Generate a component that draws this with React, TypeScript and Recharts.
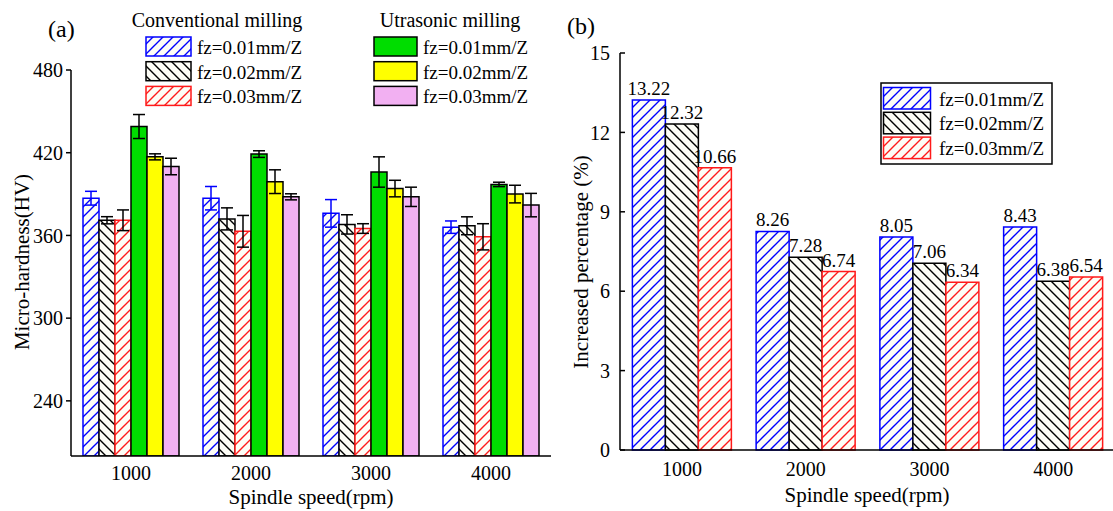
import React from 'react';
import { BarChart, Bar, XAxis, YAxis, ErrorBar, LabelList } from 'recharts';

// Spindle speeds (rpm)
const speeds = ['1000', '2000', '3000', '4000'];

// (a) Micro-hardness (HV) — conventional milling
const convFz001 = [387, 387, 376, 366];
const convFz002 = [371, 372, 368, 367];
const convFz003 = [371, 363, 365, 359];
const convFz001Err = [5, 8.5, 10, 4.5];
const convFz002Err = [2.6, 8, 7, 6.5];
const convFz003Err = [7.5, 11.5, 3.5, 9.5];

// (a) Micro-hardness (HV) — ultrasonic milling
const ultraFz001 = [439, 419, 406, 397];
const ultraFz002 = [417, 399, 394, 390];
const ultraFz003 = [410, 388, 388, 382];
const ultraFz001Err = [8.7, 2.4, 11, 1.6];
const ultraFz002Err = [2.2, 8.6, 6, 6.4];
const ultraFz003Err = [6, 2.2, 7, 8.5];

// (b) Increased percentage (%)
const incFz001 = [13.22, 8.26, 8.05, 8.43];
const incFz002 = [12.32, 7.28, 7.06, 6.38];
const incFz003 = [10.66, 6.74, 6.34, 6.54];

const hardnessTicks = [240, 300, 360, 420, 480];
const percentTicks = [0, 3, 6, 9, 12, 15];
const feedLabels = ['fz=0.01mm/Z', 'fz=0.02mm/Z', 'fz=0.03mm/Z'];

const hardnessData = speeds.map((speed, i) => ({
  speed,
  c1: convFz001[i], c1e: convFz001Err[i],
  c2: convFz002[i], c2e: convFz002Err[i],
  c3: convFz003[i], c3e: convFz003Err[i],
  u1: ultraFz001[i], u1e: ultraFz001Err[i],
  u2: ultraFz002[i], u2e: ultraFz002Err[i],
  u3: ultraFz003[i], u3e: ultraFz003Err[i],
}));

const percentData = speeds.map((speed, i) => ({
  speed,
  p1: incFz001[i],
  p2: incFz002[i],
  p3: incFz003[i],
}));

const FONT = '"Liberation Serif", "Times New Roman", serif';
const BLUE = '#0000ff';
const BLACK = '#000000';
const RED = '#ff1a1a';
const GREEN = '#00dd00';
const YELLOW = '#ffff00';
const PINK = '#f2b0f2';

const tickStyle = { fill: '#000', fontSize: 20, fontFamily: FONT };
const labelStyle = { fill: '#000', fontSize: 19, fontFamily: FONT };

function HatchDefs() {
  const mk = (id: string, color: string, forward: boolean) => (
    <pattern id={id} patternUnits="userSpaceOnUse" width={10} height={10}>
      <rect width={10} height={10} fill="#fdfdf6" />
      <path
        d={forward
          ? 'M0,10 L10,0 M-5,5 L5,-5 M5,15 L15,5'
          : 'M0,0 L10,10 M-5,5 L5,15 M5,-5 L15,5'}
        stroke={color}
        strokeWidth={1.4}
      />
    </pattern>
  );
  return (
    <svg width={0} height={0} style={{ position: 'absolute' }}>
      <defs>
        {mk('hatchBlue', BLUE, true)}
        {mk('hatchBlack', BLACK, false)}
        {mk('hatchRed', RED, true)}
      </defs>
    </svg>
  );
}

const hatchSwatches = [
  { fill: 'url(#hatchBlue)', stroke: BLUE },
  { fill: 'url(#hatchBlack)', stroke: BLACK },
  { fill: 'url(#hatchRed)', stroke: RED },
];
const solidSwatches = [
  { fill: GREEN, stroke: BLACK },
  { fill: YELLOW, stroke: BLACK },
  { fill: PINK, stroke: BLACK },
];

function Annotations() {
  return (
    <svg
      width={1113}
      height={511}
      style={{ position: 'absolute', left: 0, top: 0, pointerEvents: 'none' }}
      fontFamily={FONT}
    >
      {/* panel tags */}
      <text x={48} y={37} fontSize={24}>(a)</text>
      <text x={567} y={34} fontSize={24}>(b)</text>

      {/* axis titles */}
      <text transform="translate(29,262) rotate(-90)" textAnchor="middle" fontSize={21}>Micro-hardness(HV)</text>
      <text x={311} y={504} textAnchor="middle" fontSize={21}>Spindle speed(rpm)</text>
      <text transform="translate(588,262) rotate(-90)" textAnchor="middle" fontSize={21}>Increased percentage (%)</text>
      <text x={867} y={502} textAnchor="middle" fontSize={21}>Spindle speed(rpm)</text>

      {/* legend (a) */}
      <text x={217} y={27} textAnchor="middle" fontSize={20}>Conventional milling</text>
      <text x={450} y={27} textAnchor="middle" fontSize={20}>Utrasonic milling</text>
      {feedLabels.map((lab, i) => (
        <g key={'c' + i}>
          <rect x={146} y={37 + i * 24.7} width={45} height={19} fill={hatchSwatches[i].fill} stroke={hatchSwatches[i].stroke} strokeWidth={1.5} />
          <text x={197} y={54 + i * 24.7} fontSize={19}>{lab}</text>
          <rect x={374} y={37 + i * 24.7} width={43} height={19} fill={solidSwatches[i].fill} stroke={solidSwatches[i].stroke} strokeWidth={1.5} />
          <text x={423} y={54 + i * 24.7} fontSize={19}>{lab}</text>
        </g>
      ))}

      {/* legend (b) */}
      <rect x={881} y={83} width={171} height={81} fill="#fff" stroke="#000" strokeWidth={1.5} />
      {feedLabels.map((lab, i) => (
        <g key={'p' + i}>
          <rect x={883.5} y={87.5 + i * 24.8} width={47} height={21.5} fill={hatchSwatches[i].fill} stroke={hatchSwatches[i].stroke} strokeWidth={1.5} />
          <text x={939} y={105.5 + i * 24.8} fontSize={19}>{lab}</text>
        </g>
      ))}
    </svg>
  );
}

export default function App() {
  return (
    <div
      style={{
        position: 'absolute', left: 0, top: 0, width: 1113, height: 511,
        overflow: 'hidden', background: '#fff', fontFamily: FONT,
      }}
    >
      <HatchDefs />

      {/* (a) micro-hardness */}
      <div style={{ position: 'absolute', left: 0, top: 0 }}>
        <BarChart
          width={560}
          height={511}
          data={hardnessData}
          margin={{ top: 70, right: 9, bottom: 25, left: 0 }}
          barCategoryGap="10%"
          barGap={0}
        >
          <XAxis
            dataKey="speed"
            height={30}
            tickLine={false}
            tickSize={0}
            tickMargin={10}
            tick={tickStyle}
            axisLine={{ stroke: '#000', strokeWidth: 1.5 }}
          />
          <YAxis
            width={71}
            domain={[200, 480]}
            ticks={hardnessTicks}
            allowDataOverflow
            tickSize={5}
            tickMargin={3}
            tick={tickStyle}
            tickLine={{ stroke: '#000', strokeWidth: 1.5 }}
            axisLine={{ stroke: '#000', strokeWidth: 1.5 }}
          />
          <Bar dataKey="c1" fill="url(#hatchBlue)" stroke={BLUE} strokeWidth={1.5} isAnimationActive={false}>
            <ErrorBar dataKey="c1e" width={6} stroke={BLUE} strokeWidth={1.5} direction="y" />
          </Bar>
          <Bar dataKey="c2" fill="url(#hatchBlack)" stroke={BLACK} strokeWidth={1.5} isAnimationActive={false}>
            <ErrorBar dataKey="c2e" width={6} stroke={BLACK} strokeWidth={1.5} direction="y" />
          </Bar>
          <Bar dataKey="c3" fill="url(#hatchRed)" stroke={RED} strokeWidth={1.5} isAnimationActive={false}>
            <ErrorBar dataKey="c3e" width={6} stroke={BLACK} strokeWidth={1.5} direction="y" />
          </Bar>
          <Bar dataKey="u1" fill={GREEN} stroke={BLACK} strokeWidth={1.5} isAnimationActive={false}>
            <ErrorBar dataKey="u1e" width={6} stroke={BLACK} strokeWidth={1.5} direction="y" />
          </Bar>
          <Bar dataKey="u2" fill={YELLOW} stroke={BLACK} strokeWidth={1.5} isAnimationActive={false}>
            <ErrorBar dataKey="u2e" width={6} stroke={BLACK} strokeWidth={1.5} direction="y" />
          </Bar>
          <Bar dataKey="u3" fill={PINK} stroke={BLACK} strokeWidth={1.5} isAnimationActive={false}>
            <ErrorBar dataKey="u3e" width={6} stroke={BLACK} strokeWidth={1.5} direction="y" />
          </Bar>
        </BarChart>
      </div>

      {/* (b) increased percentage */}
      <div style={{ position: 'absolute', left: 560, top: 0 }}>
        <BarChart
          width={555}
          height={511}
          data={percentData}
          margin={{ top: 53, right: 0, bottom: 31, left: 0 }}
          barCategoryGap="10%"
          barGap={0}
        >
          <XAxis
            dataKey="speed"
            height={30}
            tickLine={false}
            tickSize={0}
            tickMargin={12}
            tick={tickStyle}
            axisLine={{ stroke: '#000', strokeWidth: 1.5 }}
          />
          <YAxis
            width={60}
            domain={[0, 15]}
            ticks={percentTicks}
            tickSize={-5}
            tickMargin={15}
            tick={tickStyle}
            tickLine={{ stroke: '#000', strokeWidth: 1.5 }}
            axisLine={{ stroke: '#000', strokeWidth: 1.5 }}
          />
          <Bar dataKey="p1" fill="url(#hatchBlue)" stroke={BLUE} strokeWidth={1.5} isAnimationActive={false}>
            <LabelList dataKey="p1" position="top" offset={5} {...labelStyle} formatter={(v: number) => v.toFixed(2)} />
          </Bar>
          <Bar dataKey="p2" fill="url(#hatchBlack)" stroke={BLACK} strokeWidth={1.5} isAnimationActive={false}>
            <LabelList dataKey="p2" position="top" offset={5} {...labelStyle} formatter={(v: number) => v.toFixed(2)} />
          </Bar>
          <Bar dataKey="p3" fill="url(#hatchRed)" stroke={RED} strokeWidth={1.5} isAnimationActive={false}>
            <LabelList dataKey="p3" position="top" offset={5} {...labelStyle} formatter={(v: number) => v.toFixed(2)} />
          </Bar>
        </BarChart>
      </div>

      <Annotations />
    </div>
  );
}
